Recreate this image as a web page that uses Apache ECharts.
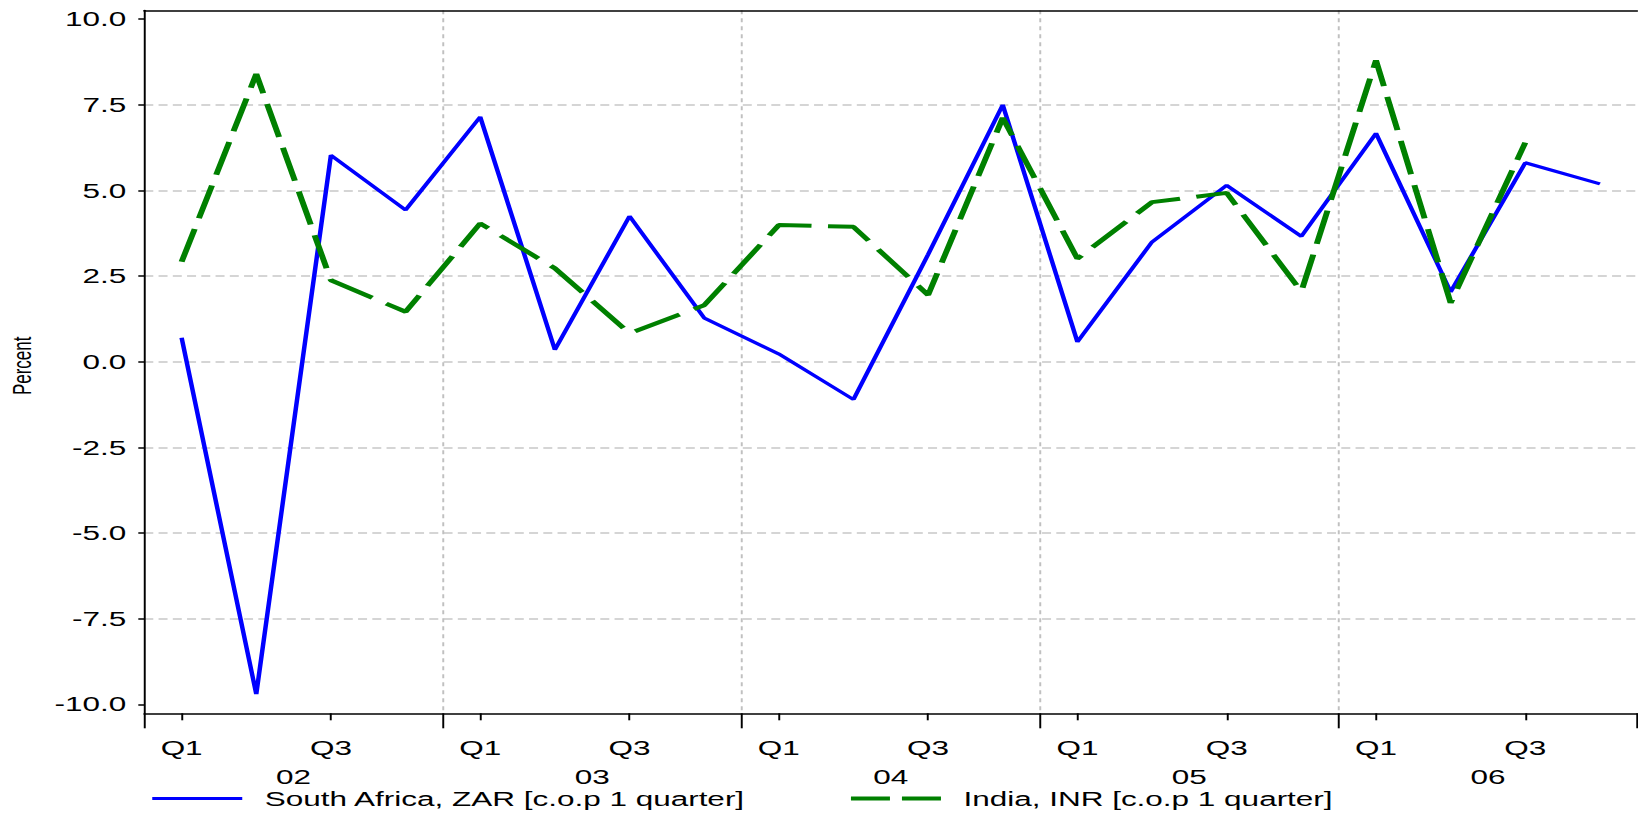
<!DOCTYPE html>
<html>
<head>
<meta charset="utf-8">
<script src="https://cdn.jsdelivr.net/npm/echarts@6/dist/echarts.min.js"></script>
<style>
  html, body { margin: 0; padding: 0; background: #fff; overflow: hidden; }
  /* the chart is laid out narrow and stretched horizontally */
  #chart { width: 1092px; height: 814px; transform: scaleX(1.5); transform-origin: 0 0; }
</style>
</head>
<body>
<div id="chart"></div>
<script>
// Quarterly percent changes (change over previous quarter), 2002 Q1 - 2006 Q4
const years = ['2002', '2003', '2004', '2005', '2006'];
const yearLabels = ['02', '03', '04', '05', '06'];
const quarterLabels = ['Q1', 'Q2', 'Q3', 'Q4'];

const southAfrica = [0.7, -9.7, 6.03, 4.43, 7.15, 0.35, 4.25, 1.28, 0.23, -1.1,
                     3.13, 7.5, 0.58, 3.5, 5.15, 3.66, 6.67, 2.04, 5.81, 5.19];
const india = [2.92, 8.4, 2.38, 1.46, 4.04, 2.73, 0.83, 1.65, 3.99, 3.94,
               1.95, 7.12, 3.01, 4.66, 4.93, 2.05, 8.8, 1.72, 6.4, null];

const yTickValues = [-10, -7.5, -5, -2.5, 0, 2.5, 5, 7.5, 10];
const yGridValues = [-7.5, -5, -2.5, 0, 2.5, 5, 7.5];

const seriesNames = ['South Africa, ZAR [c.o.p 1 quarter]', 'India, INR [c.o.p 1 quarter]'];

const categories = [];
years.forEach(y => quarterLabels.forEach(q => categories.push(y + ' ' + q)));

const FONT = '"Liberation Sans", Arial, sans-serif';
const yMin = -10.26, yMax = 10.26;
const showQ = i => i % 2 === 0;

const chart = echarts.init(document.getElementById('chart'), null, { renderer: 'svg' });

chart.setOption({
  animation: false,
  backgroundColor: '#fff',
  textStyle: { fontFamily: FONT },
  grid: { left: 96.2, right: 0.5, top: 10.3, bottom: 100.7, containLabel: false, outerBoundsMode: 'none' },
  legend: [
    {
      data: [seriesNames[0]], left: 100, top: 788, padding: 0,
      itemWidth: 60, itemHeight: 14,
      itemStyle: { opacity: 0 },
      lineStyle: { color: '#0000ff', width: 3, type: 'solid' },
      textStyle: { fontSize: 21, color: '#000', fontFamily: FONT, padding: [0, 0, 0, 10] }
    },
    {
      data: [seriesNames[1]], left: 565.3, top: 788, padding: 0,
      itemWidth: 60, itemHeight: 14,
      itemStyle: { opacity: 0 },
      lineStyle: { color: '#008000', width: 4, type: [26, 8] },
      textStyle: { fontSize: 21, color: '#000', fontFamily: FONT, padding: [0, 0, 0, 10] }
    }
  ],
  xAxis: [
    {
      // quarter axis carrying the data
      type: 'category', data: categories, position: 'bottom', boundaryGap: true,
      axisLine: { show: true, onZero: false, lineStyle: { color: '#000', width: 1.5 } },
      axisTick: { show: true, alignWithLabel: true, interval: showQ, length: 7, lineStyle: { color: '#000', width: 1.3 } },
      axisLabel: { interval: showQ, formatter: v => v.split(' ')[1], margin: 24, fontSize: 21, color: '#000', fontFamily: FONT },
      splitLine: { show: false }
    },
    {
      // year axis: boundary ticks, year labels and dotted year separators
      type: 'category', data: yearLabels, position: 'bottom', boundaryGap: true,
      axisLine: { show: false, onZero: false },
      axisTick: { show: true, length: 15, lineStyle: { color: '#000', width: 1.3 } },
      axisLabel: { margin: 53, fontSize: 21, color: '#000', fontFamily: FONT },
      splitLine: { show: true, showMinLine: false, showMaxLine: false,
                   lineStyle: { color: '#c0c0c0', width: 1.3, type: [4, 4] } }
    },
    {
      // top frame line
      type: 'category', data: yearLabels, position: 'top', boundaryGap: true,
      axisLine: { show: true, onZero: false, lineStyle: { color: '#000', width: 1.5 } },
      axisTick: { show: false }, axisLabel: { show: false }, splitLine: { show: false }
    }
  ],
  yAxis: [
    {
      type: 'value', min: yMin, max: yMax, position: 'left',
      name: 'Percent', nameLocation: 'middle', nameRotate: 90, nameGap: 73,
      nameTextStyle: { fontSize: 17, color: '#000', fontFamily: FONT, padding: [0, 8, 0, 0] },
      axisLine: { show: true, onZero: false, lineStyle: { color: '#000', width: 1.3 } },
      axisTick: { show: true, customValues: yTickValues, length: 4, lineStyle: { color: '#000', width: 1.5 } },
      axisLabel: { customValues: yTickValues, formatter: v => v.toFixed(1), margin: 12, fontSize: 21, color: '#000', fontFamily: FONT },
      splitLine: { show: false }
    },
    {
      // horizontal dashed grid lines
      type: 'value', min: yMin, max: yMax, position: 'left',
      axisLine: { show: false }, axisLabel: { show: false },
      axisTick: { show: false, customValues: yGridValues },
      splitLine: { show: true, lineStyle: { color: '#c8c8c8', width: 1.5, type: [6, 3.5] } }
    }
  ],
  series: [
    {
      name: seriesNames[0], type: 'line', data: southAfrica,
      xAxisIndex: 0, yAxisIndex: 0, symbol: 'none',
      itemStyle: { color: '#0000ff' },
      lineStyle: { color: '#0000ff', width: 3 }
    },
    {
      name: seriesNames[1], type: 'line', data: india,
      xAxisIndex: 0, yAxisIndex: 0, symbol: 'none',
      itemStyle: { color: '#008000' },
      lineStyle: { color: '#008000', width: 4, type: [34, 11] }
    }
  ]
});
</script>
</body>
</html>
